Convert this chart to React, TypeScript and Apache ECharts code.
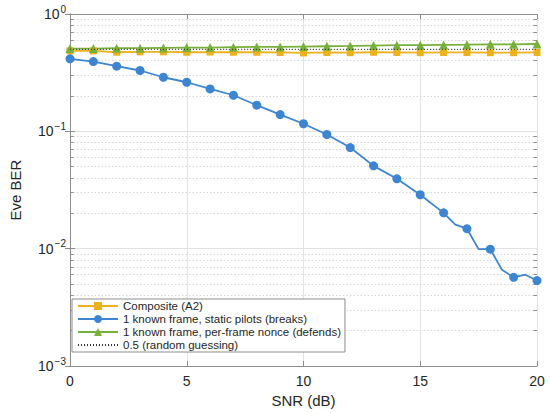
import React, { useEffect, useRef } from "react";
import * as echarts from "echarts";

const snrDb = [0, 1, 2, 3, 4, 5, 6, 7, 8, 9, 10, 11, 12, 13, 14, 15, 16, 17, 18, 19, 20];
const compositeBer = [0.485, 0.485, 0.472, 0.476, 0.476, 0.472, 0.474, 0.472, 0.472, 0.47, 0.466, 0.47, 0.468, 0.472, 0.47, 0.468, 0.47, 0.47, 0.468, 0.468, 0.47];
const staticSnr = [0, 1, 2, 3, 4, 5, 6, 7, 8, 9, 10, 11, 12, 13, 14, 15, 16, 16.5, 17, 17.5, 18, 18.5, 19, 19.5, 20];
const staticBer = [0.415, 0.393, 0.359, 0.33, 0.289, 0.262, 0.23, 0.203, 0.167, 0.139, 0.116, 0.094, 0.0727, 0.0508, 0.0394, 0.0288, 0.0202, 0.016, 0.0148, 0.0099, 0.0099, 0.0066, 0.0057, 0.006, 0.00535];
const nonceBer = [0.507, 0.507, 0.511, 0.511, 0.514, 0.517, 0.517, 0.521, 0.524, 0.524, 0.528, 0.531, 0.534, 0.538, 0.542, 0.542, 0.545, 0.548, 0.552, 0.552, 0.555];
const randomGuessLevel = 0.5;
const minorMultipliers = [2, 3, 4, 5, 6, 7, 8, 9];
const minorDecades = [0.001, 0.01, 0.1];
const seriesNames = [
  "Composite (A2)",
  "1 known frame, static pilots (breaks)",
  "1 known frame, per-frame nonce (defends)",
  "0.5 (random guessing)",
];

const FONT = "'Liberation Sans', Arial, Helvetica, sans-serif";
const TEXT = "#262626";
const AXIS = "#8c8c8c";
const GRID = "#e2e2e2";
const ORANGE = "#EDB120";
const BLUE = "#3D85D1";
const GREEN = "#77B03A";

export default function App() {
  const ref = useRef<HTMLDivElement>(null);

  useEffect(() => {
    if (!ref.current) return;
    const chart = echarts.init(ref.current, undefined, { renderer: "svg" });

    const minorValues: number[] = [];
    minorDecades.forEach((d) => minorMultipliers.forEach((m) => minorValues.push(+(d * m).toPrecision(6))));

    const tickLen = 0.15;
    const markData: any[] = [];
    minorValues.forEach((v) => {
      markData.push([{ coord: [0, v] }, { coord: [20, v] }]);
    });
    const tickData: any[] = [];
    minorValues.forEach((v) => {
      tickData.push([{ coord: [0, v] }, { coord: [tickLen, v] }]);
      tickData.push([{ coord: [20 - tickLen, v] }, { coord: [20, v] }]);
    });

    const supFormatter = (v: number) => {
      const e = Math.round(Math.log10(v));
      const s = e < 0 ? "\u2212" + -e : String(e);
      return `{b|10}{s|${s}}`;
    };

    const option: any = {
      animation: false,
      backgroundColor: "#ffffff",
      textStyle: { fontFamily: FONT },
      grid: { left: 62, right: 13, top: 14, bottom: 47, containLabel: false },
      legend: {
        data: seriesNames.map((n, i) =>
          i === 3 ? { name: n, itemStyle: { opacity: 0 } } : { name: n }
        ),
        orient: "vertical",
        left: 72,
        top: 299,
        z: 20,
        itemWidth: 40,
        itemHeight: 10,
        itemGap: 1,
        padding: [1, 4, 1, 5],
        backgroundColor: "#ffffff",
        borderColor: AXIS,
        borderWidth: 1,
        borderRadius: 0,
        selectedMode: false,
        textStyle: { fontSize: 11.5, color: TEXT, fontFamily: FONT },
      },
      xAxis: [
        {
          type: "value",
          min: 0,
          max: 20,
          interval: 5,
          name: "SNR (dB)",
          nameLocation: "middle",
          nameGap: 24,
          nameTextStyle: { fontSize: 15, color: TEXT, fontFamily: FONT },
          axisLine: { show: true, lineStyle: { color: AXIS, width: 1 } },
          axisTick: { show: true, inside: true, length: 5, lineStyle: { color: AXIS } },
          axisLabel: { fontSize: 14, color: TEXT, margin: 8, fontFamily: FONT },
          splitLine: { show: true, lineStyle: { color: GRID, width: 1 } },
        },
        {
          type: "value",
          position: "top",
          min: 0,
          max: 20,
          interval: 5,
          axisLine: { show: true, lineStyle: { color: AXIS, width: 1 } },
          axisTick: { show: true, inside: true, length: 5, lineStyle: { color: AXIS } },
          axisLabel: { show: false },
          splitLine: { show: false },
        },
      ],
      yAxis: [
        {
          type: "log",
          logBase: 10,
          min: 0.001,
          max: 1,
          name: "Eve BER",
          nameLocation: "middle",
          nameGap: 47,
          nameTextStyle: { fontSize: 15, color: TEXT, fontFamily: FONT },
          axisLine: { show: true, lineStyle: { color: AXIS, width: 1 } },
          axisTick: { show: true, inside: true, length: 5, lineStyle: { color: AXIS } },
          axisLabel: {
            formatter: supFormatter,
            margin: 4,
            rich: {
              b: { fontSize: 14, color: TEXT, fontFamily: FONT, padding: [6, 0, 6, 0] },
              s: { fontSize: 10, color: TEXT, fontFamily: FONT, verticalAlign: "top", padding: [3, 0, 0, 1] },
            },
          },
          splitLine: { show: true, lineStyle: { color: GRID, width: 1 } },
        },
        {
          type: "log",
          logBase: 10,
          min: 0.001,
          max: 1,
          position: "right",
          axisLine: { show: true, lineStyle: { color: AXIS, width: 1 } },
          axisTick: { show: true, inside: true, length: 5, lineStyle: { color: AXIS } },
          axisLabel: { show: false },
          splitLine: { show: false },
        },
      ],
      series: [
        {
          name: "minor-grid",
          type: "line",
          data: [[0, randomGuessLevel]],
          showSymbol: false,
          lineStyle: { width: 0 },
          silent: true,
          z: 1,
          markLine: {
            silent: true,
            z: 1,
            symbol: ["none", "none"],
            label: { show: false },
            lineStyle: { color: "#d6d6d6", type: [1.5, 2], width: 1 },
            emphasis: { disabled: true },
            data: markData,
          },
        },
        {
          name: "minor-ticks",
          type: "line",
          data: [[0, randomGuessLevel]],
          showSymbol: false,
          lineStyle: { width: 0 },
          silent: true,
          z: 3,
          markLine: {
            silent: true,
            z: 3,
            symbol: ["none", "none"],
            label: { show: false },
            lineStyle: { color: AXIS, type: "solid", width: 1 },
            emphasis: { disabled: true },
            data: tickData,
          },
        },
        {
          name: seriesNames[0],
          type: "line",
          data: snrDb.map((x, i) => [x, compositeBer[i]]),
          symbol: "rect",
          symbolSize: 7,
          showAllSymbol: true,
          lineStyle: { color: ORANGE, width: 1.8 },
          itemStyle: { color: ORANGE },
          z: 4,
        },
        {
          name: seriesNames[1],
          type: "line",
          data: staticSnr.map((x, i) => [x, staticBer[i]]),
          symbol: "circle",
          symbolSize: (val: any) => (Number.isInteger(val[0]) ? 9 : 0),
          showAllSymbol: true,
          lineStyle: { color: BLUE, width: 1.8 },
          itemStyle: { color: BLUE },
          z: 4,
        },
        {
          name: seriesNames[2],
          type: "line",
          data: snrDb.map((x, i) => [x, nonceBer[i]]),
          symbol: "triangle",
          symbolSize: 9,
          showAllSymbol: true,
          lineStyle: { color: GREEN, width: 1.8 },
          itemStyle: { color: GREEN },
          z: 4,
        },
        {
          name: seriesNames[3],
          type: "line",
          data: [[0, randomGuessLevel], [20, randomGuessLevel]],
          symbol: "none",
          lineStyle: { color: "#333333", width: 1, type: [1, 2] },
          itemStyle: { color: "#333333" },
          z: 5,
        },
      ],
    };

    chart.setOption(option);
    return () => chart.dispose();
  }, []);

  return (
    <div
      ref={ref}
      style={{ position: "absolute", left: 0, top: 0, width: 550, height: 413 }}
    />
  );
}
